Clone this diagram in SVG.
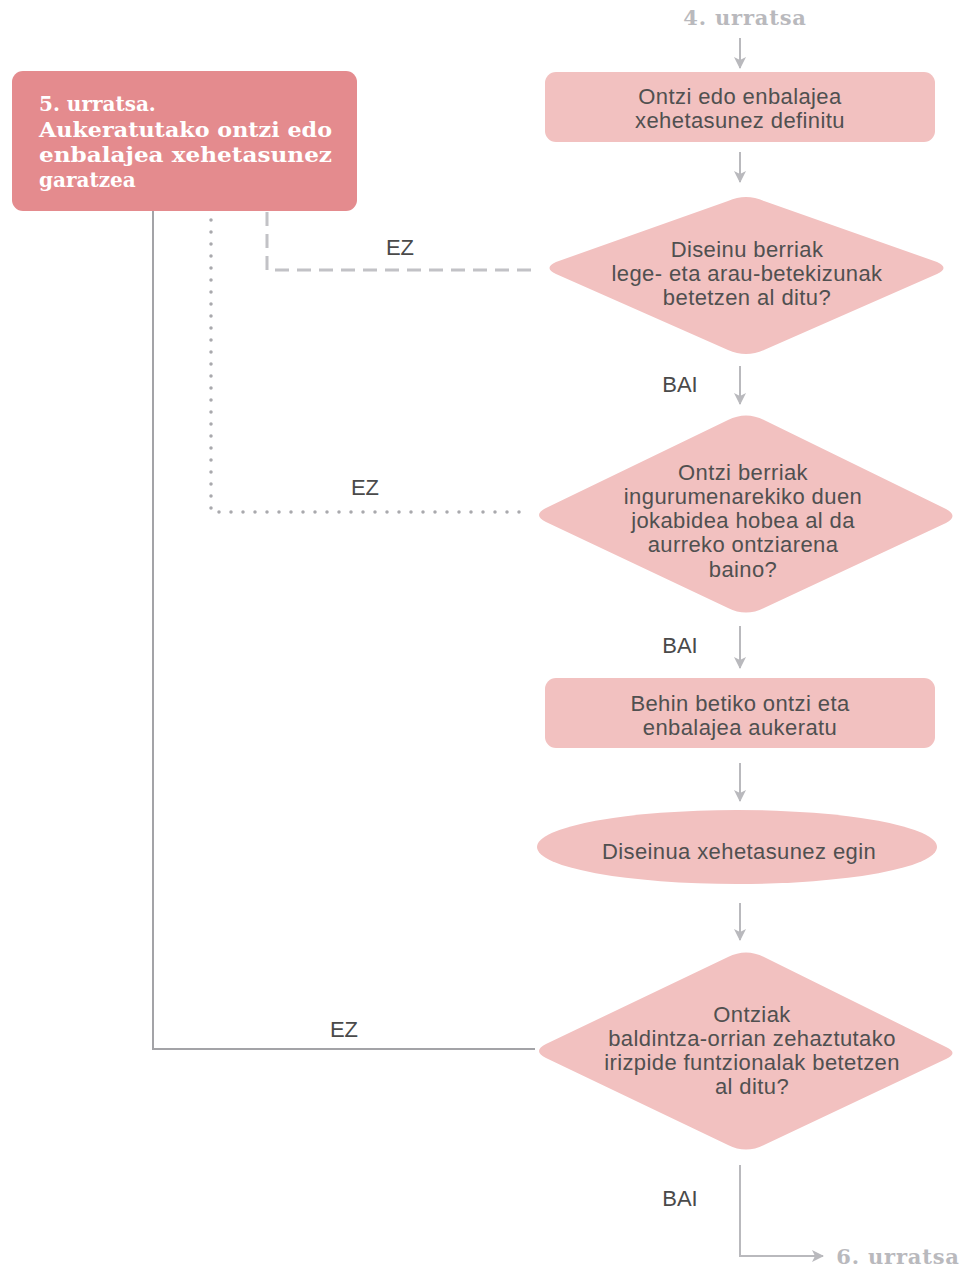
<svg xmlns="http://www.w3.org/2000/svg" width="963" height="1271" viewBox="0 0 963 1271">
  <style>
    .node { fill: #f2c1c0; }
    .step { fill: #e48b8e; }
    .txt { font-family: "Liberation Sans", Arial, sans-serif; font-size: 22px; letter-spacing: 0.4px; fill: #505050; text-anchor: middle; }
    .lbl { font-family: "Liberation Sans", Arial, sans-serif; font-size: 22px; fill: #4a4a4a; text-anchor: middle; }
    .slab { font-family: "DejaVu Serif", serif; font-weight: bold; font-size: 20px; fill: #ffffff; }
    .ref { font-family: "DejaVu Serif", serif; font-weight: bold; font-size: 21px; letter-spacing: 0.8px; fill: #b9b9bd; }
    .flow { fill: none; stroke: #b9b9bd; stroke-width: 2; }
    .back { fill: none; stroke: #a3a3a7; stroke-width: 2; }
    .dash { fill: none; stroke: #c2c2c6; stroke-width: 3; stroke-dasharray: 14 8; }
    .dot { fill: none; stroke: #a9a9ad; stroke-width: 3.5; stroke-linecap: round; stroke-dasharray: 0 12; }
  </style>
  <defs>
    <marker id="arrow" viewBox="0 0 12 12" refX="11" refY="6" markerWidth="12" markerHeight="12" markerUnits="userSpaceOnUse" orient="auto">
      <path d="M0,0 L12,6 L0,12 L3,6 z" fill="#b9b9bd"/>
    </marker>
  </defs>

  <rect width="963" height="1271" fill="#ffffff"/>

  <!-- connectors -->
  <g id="connectors">
    <path class="flow" d="M740,38 V68" marker-end="url(#arrow)"/>
    <path class="flow" d="M740,152 V182" marker-end="url(#arrow)"/>
    <path class="flow" d="M740,366 V404" marker-end="url(#arrow)"/>
    <path class="flow" d="M740,626 V668" marker-end="url(#arrow)"/>
    <path class="flow" d="M740,763 V801" marker-end="url(#arrow)"/>
    <path class="flow" d="M740,903 V940" marker-end="url(#arrow)"/>
    <path class="flow" d="M740,1165 V1256 H823" marker-end="url(#arrow)"/>
    <path class="back" d="M153,211 V1049 H535"/>
    <path class="dot" d="M211,220 V512 H530"/>
    <path class="dash" d="M267,212 V270 H533"/>
    <text class="lbl" x="400" y="255">EZ</text>
    <text class="lbl" x="365" y="495">EZ</text>
    <text class="lbl" x="344" y="1037">EZ</text>
    <text class="lbl" x="680" y="392">BAI</text>
    <text class="lbl" x="680" y="653">BAI</text>
    <text class="lbl" x="680" y="1206">BAI</text>
  </g>

  <g id="step4">
    <text class="ref" x="745" y="25" text-anchor="middle">4. urratsa</text>
  </g>

  <g id="step5">
    <rect class="step" x="12" y="71" width="345" height="140" rx="11"/>
    <text class="slab" x="39" y="111">5. urratsa.</text>
    <text class="slab" x="39" y="137" textLength="293" lengthAdjust="spacingAndGlyphs">Aukeratutako ontzi edo</text>
    <text class="slab" x="39" y="162" textLength="293" lengthAdjust="spacingAndGlyphs">enbalajea xehetasunez</text>
    <text class="slab" x="39" y="187">garatzea</text>
  </g>

  <g id="define">
    <rect class="node" x="545" y="72" width="390" height="70" rx="11"/>
    <text class="txt" x="740" y="104">Ontzi edo enbalajea</text>
    <text class="txt" x="740" y="128">xehetasunez definitu</text>
  </g>

  <g id="legal">
    <path class="node" d="M728,201 Q746,193 764,201 L937,262 Q950,268 937,274 L764,350 Q746,358 728,350 L556,274 Q543,268 556,262 Z"/>
    <text class="txt" x="747" y="257">Diseinu berriak</text>
    <text class="txt" x="747" y="281">lege- eta arau-betekizunak</text>
    <text class="txt" x="747" y="305">betetzen al ditu?</text>
  </g>

  <g id="environment">
    <path class="node" d="M728,420 Q746,411 764,420 L946,509 Q959,516 946,523 L764,608 Q746,617 728,608 L546,522 Q532,515 546,508 Z"/>
    <text class="txt" x="743" y="480">Ontzi berriak</text>
    <text class="txt" x="743" y="504">ingurumenarekiko duen</text>
    <text class="txt" x="743" y="528">jokabidea hobea al da</text>
    <text class="txt" x="743" y="552">aurreko ontziarena</text>
    <text class="txt" x="743" y="577">baino?</text>
  </g>

  <g id="choose">
    <rect class="node" x="545" y="678" width="390" height="70" rx="11"/>
    <text class="txt" x="740" y="711">Behin betiko ontzi eta</text>
    <text class="txt" x="740" y="735">enbalajea aukeratu</text>
  </g>

  <g id="design">
    <ellipse class="node" cx="737" cy="847" rx="200" ry="37"/>
    <text class="txt" x="739" y="859">Diseinua xehetasunez egin</text>
  </g>

  <g id="function">
    <path class="node" d="M728,957 Q746,948 764,957 L946,1047 Q959,1053 946,1059 L764,1145 Q746,1154 728,1145 L546,1058 Q532,1051 546,1044 Z"/>
    <text class="txt" x="752" y="1022">Ontziak</text>
    <text class="txt" x="752" y="1046">baldintza-orrian zehaztutako</text>
    <text class="txt" x="752" y="1070">irizpide funtzionalak betetzen</text>
    <text class="txt" x="752" y="1094">al ditu?</text>
  </g>

  <g id="step6">
    <text class="ref" x="898" y="1264" text-anchor="middle">6. urratsa</text>
  </g>
</svg>
